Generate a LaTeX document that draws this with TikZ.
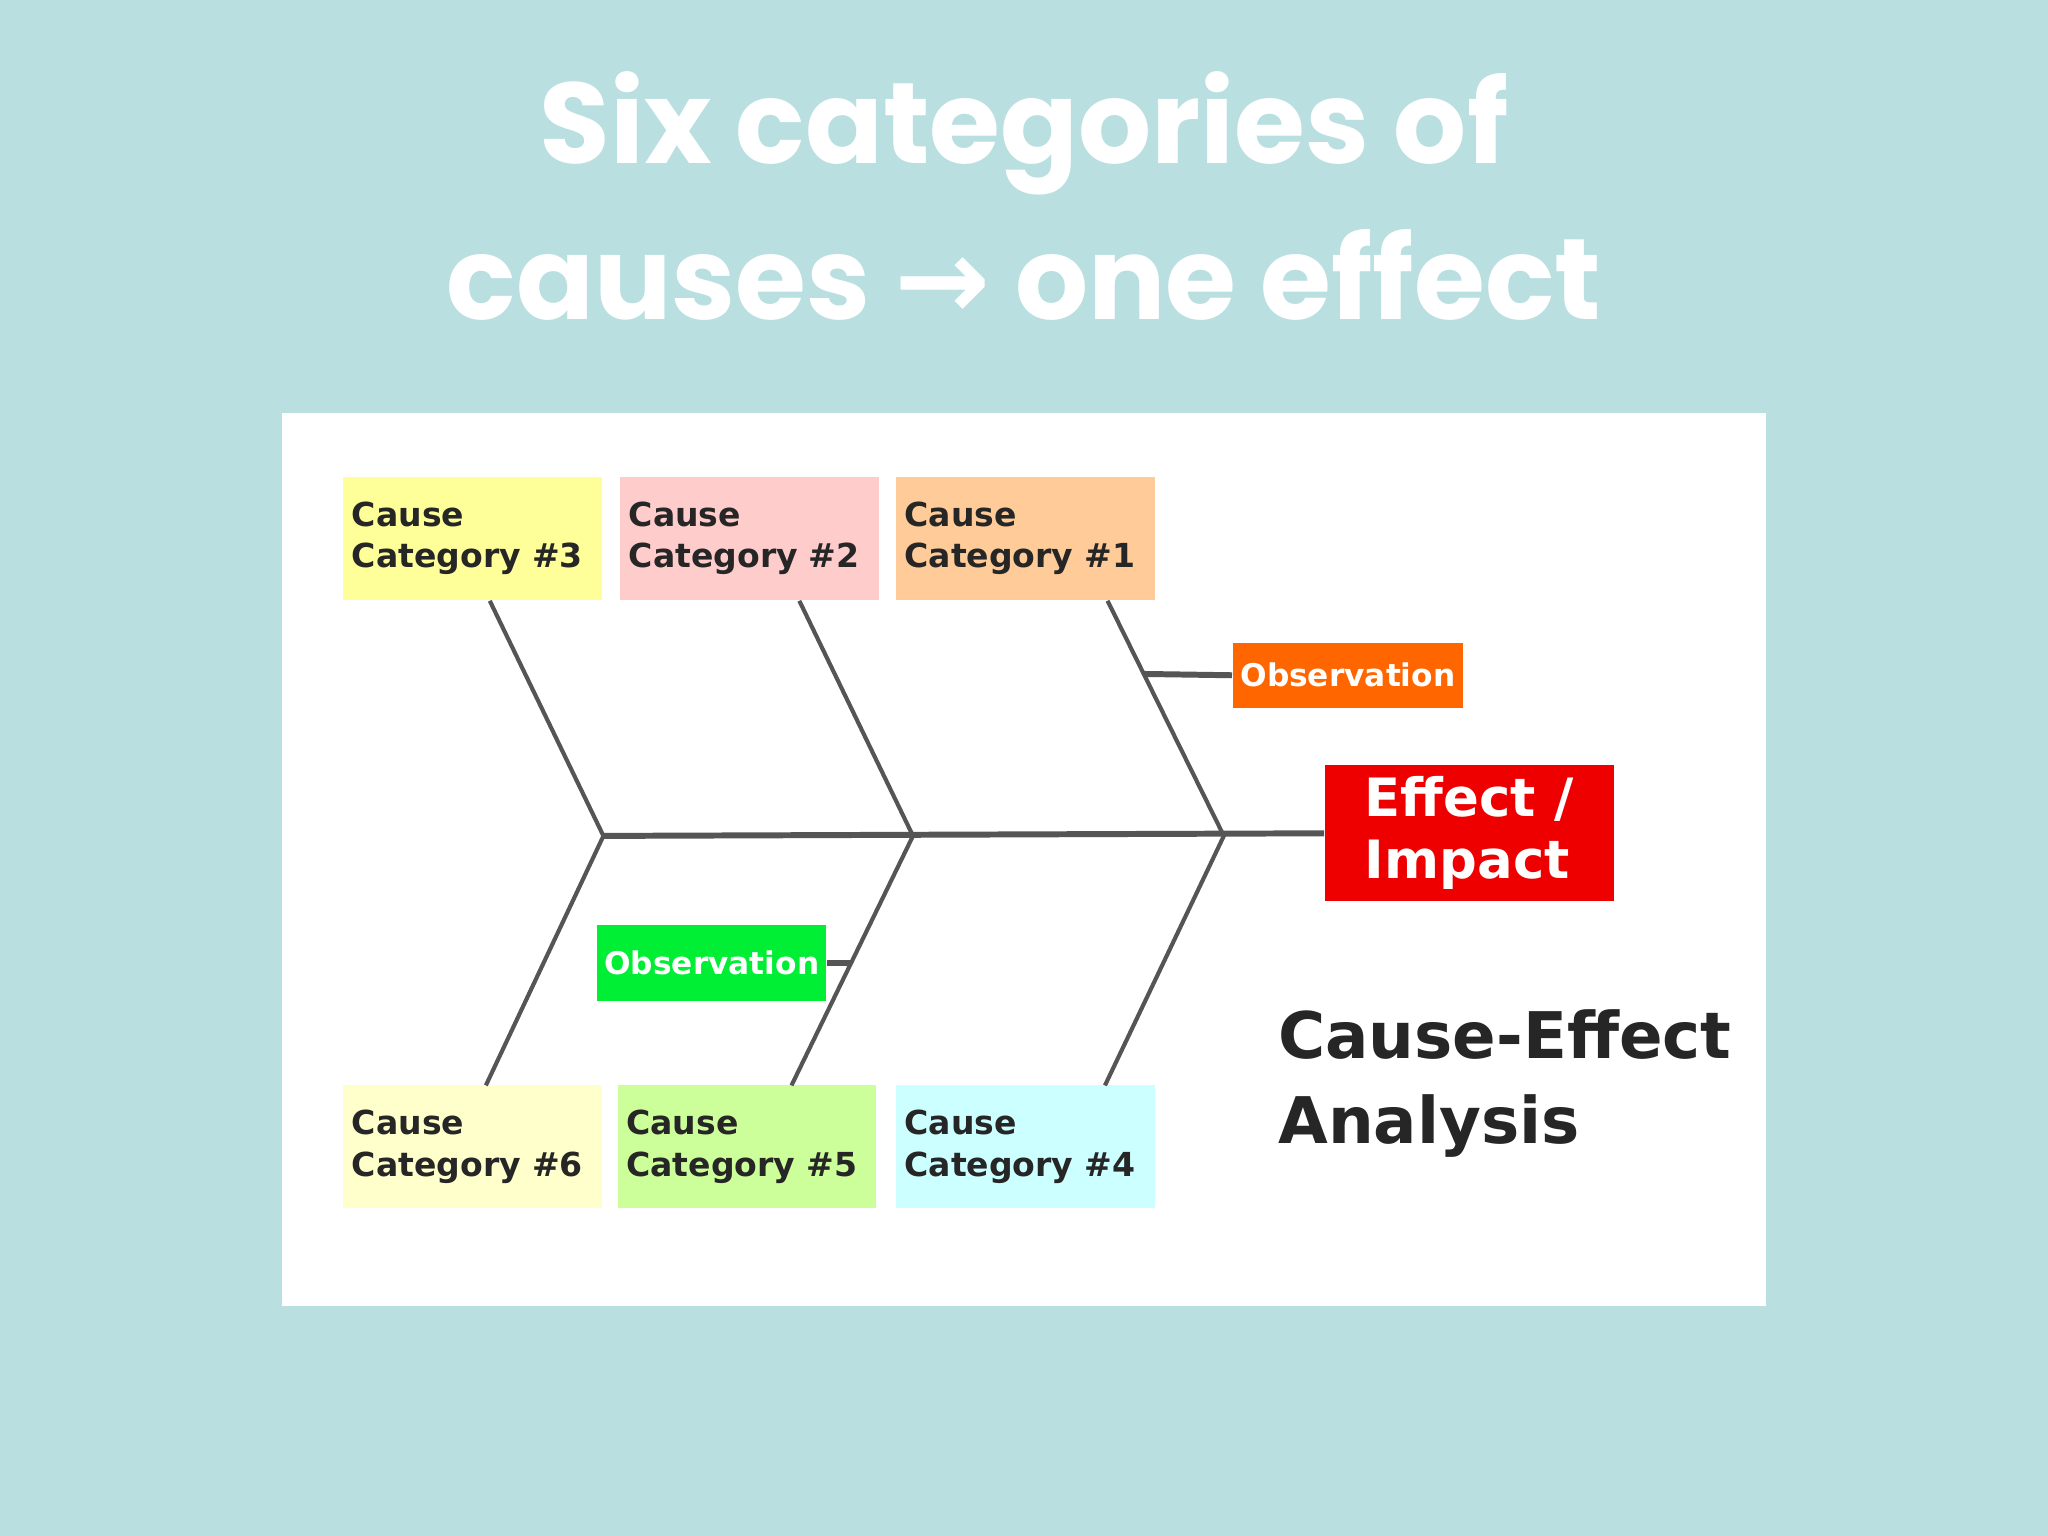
\documentclass[tikz,border=0pt]{standalone}
\usepackage{fontspec}
\setmainfont{DejaVu Sans}
\newfontfamily\titlefont{Poppins}
\newfontfamily\arrfont{DejaVu Sans}
\definecolor{bg}{HTML}{B9DFE1}
\definecolor{cthree}{HTML}{FFFF99}
\definecolor{ctwo}{HTML}{FFCCCC}
\definecolor{cone}{HTML}{FFCC99}
\definecolor{csix}{HTML}{FFFFCC}
\definecolor{cfive}{HTML}{CCFF99}
\definecolor{cfour}{HTML}{CCFFFF}
\definecolor{obsor}{HTML}{FF6600}
\definecolor{obsgr}{HTML}{00EE33}
\definecolor{effred}{HTML}{EE0000}
\definecolor{bone}{HTML}{555555}
\begin{document}
\begin{tikzpicture}[x=0.01cm,y=-0.01cm,
  catbox/.style={draw=none,minimum width=1.98cm,minimum height=0.94cm,text width=1.85cm,align=left,inner sep=0pt,font=\bfseries\fontsize{7.2}{9}\selectfont,text=black!85},
  obsbox/.style={draw=none,minimum height=0.5cm,inner sep=0pt,font=\bfseries\fontsize{6.8}{8}\selectfont,text=white},
  boneline/.style={draw=bone,line width=0.9pt}]
\fill[bg] (0,0) rectangle (1568,1176);
\useasboundingbox (0,0) rectangle (1568,1176);
\node[text=white,font=\titlefont\bfseries\fontsize{25}{34}\selectfont,align=center] (title) at (784,150) {Six categories of\\causes {\arrfont →} one effect};
\fill[white] (216,316) rectangle (1352,1000);
\node[catbox,fill=cthree] (c3) at (362,412) {Cause\\Category \#3};
\node[catbox,fill=ctwo] (c2) at (574,412) {Cause\\Category \#2};
\node[catbox,fill=cone] (c1) at (785,412) {Cause\\Category \#1};
\node[catbox,fill=csix] (c6) at (362,878) {Cause\\Category \#6};
\node[catbox,fill=cfive] (c5) at (572,878) {Cause\\Category \#5};
\node[catbox,fill=cfour] (c4) at (785,878) {Cause\\Category \#4};
\node[draw=none,fill=effred,minimum width=2.21cm,minimum height=1.04cm,text=white,font=\bfseries\fontsize{11.5}{13.5}\selectfont,align=left,inner sep=0pt] (eff) at (1125,638) {Effect /\\Impact};
\node[obsbox,fill=obsor,minimum width=1.76cm] (o1) at (1032,517) {Observation};
\node[obsbox,fill=obsgr,minimum width=1.75cm,minimum height=0.58cm] (o2) at (545,737) {Observation};
\coordinate (j3) at (462,640);
\coordinate (j2) at (699,640);
\coordinate (j1) at (937,640);
\coordinate (t3) at (375,460);
\coordinate (t2) at (612,460);
\coordinate (t1) at (848,460);
\coordinate (b6) at (372,831);
\coordinate (b5) at (606,831);
\coordinate (b4) at (846,831);
\coordinate (ob1) at (876,516);
\coordinate (ob2) at (652,737);
\draw[boneline,line width=1.3pt] (j3) -- (eff.west);
\draw[boneline] (t3) -- (j3) -- (b6);
\draw[boneline] (t2) -- (j2) -- (b5);
\draw[boneline] (t1) -- (j1) -- (b4);
\draw[boneline,line width=1.3pt] (ob1) -- (o1.west);
\draw[boneline,line width=1.3pt] (o2.east) -- (ob2);
\node[anchor=north west,align=left,font=\bfseries\fontsize{14}{18.5}\selectfont,text=black!85,inner sep=0pt] (cea) at (978,772) {Cause-Effect\\Analysis};
\end{tikzpicture}
\end{document}
